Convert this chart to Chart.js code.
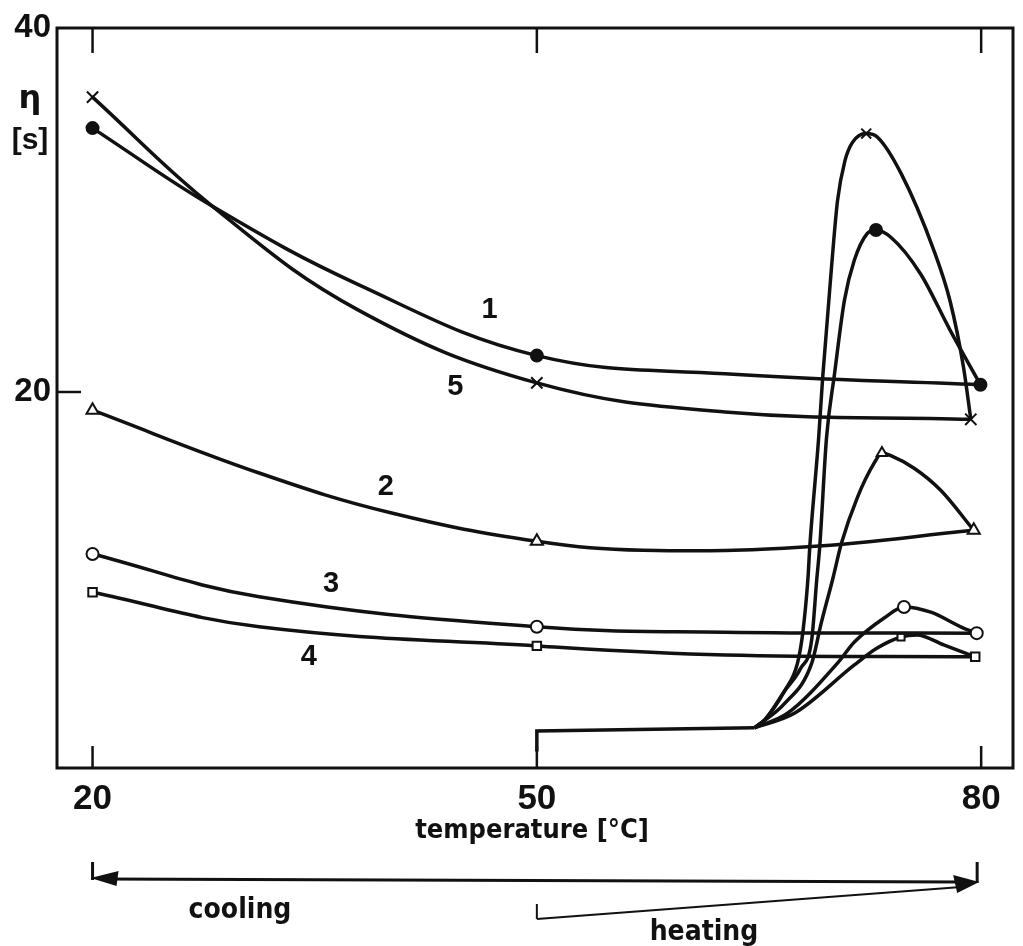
<!DOCTYPE html>
<html>
<head>
<meta charset="utf-8">
<title>eta vs temperature</title>
<script src="https://cdn.jsdelivr.net/npm/chart.js@4.4.1/dist/chart.umd.min.js"></script>
<style>
  html,body{margin:0;padding:0;background:#fff;}
  #wrap{width:1023px;height:946px;}
</style>
</head>
<body>
<div id="wrap"><canvas id="c" width="1023" height="946"></canvas></div>
<script>
// axis ticks
const xTicks = [20, 50, 80];
const yTicks = [20, 40];

// cooling branches (80 -> 20 °C)
const c1CoolT   = [20, 28.1, 37.95, 50, 62.7, 79.95];
const c1CoolEta = [34.5, 30.2, 25.9, 22.0, 21.0, 20.4];
const c5CoolT   = [20, 28.1, 37.95, 50, 62.7, 79.3];
const c5CoolEta = [36.2, 30.2, 24.5, 20.5, 18.9, 18.5];
const c2CoolT   = [20, 31.25, 40.2, 50, 57.2, 68.3, 79.5];
const c2CoolEta = [19.0, 15.55, 13.35, 11.8, 11.3, 11.5, 12.4];
const c3CoolT   = [20, 31.25, 50, 62.7, 79.7];
const c3CoolEta = [11.1, 8.75, 7.1, 6.8, 6.75];
const c4CoolT   = [20, 31.25, 50, 62.7, 79.6];
const c4CoolEta = [9.0, 7.1, 6.05, 5.55, 5.45];

// heating: common flat start
const baseT   = [50, 50, 64.7];
const baseEta = [0.25, 1.37, 1.55];

// heating branches
const c5HeatT   = [64.7, 65.4, 66.75, 67.6, 67.96, 68.3, 68.43, 69.03, 69.3, 69.9, 70.3, 70.8, 71.3, 72.24, 73.0, 74.6, 76.8, 77.9, 78.8, 79.3];
const c5HeatEta = [1.55, 2.0, 3.6, 5.1, 6.8, 9.7, 11.5, 17.5, 20.8, 26.9, 30.5, 32.7, 33.7, 34.2, 34.0, 32.0, 27.8, 25.0, 21.4, 18.5];
const c1HeatT   = [64.7, 65.4, 66.75, 67.8, 68.56, 68.9, 69.1, 69.56, 70.1, 70.77, 71.44, 72.3, 72.9, 73.9, 75.9, 77.9, 79.95];
const c1HeatEta = [1.55, 2.0, 3.6, 4.8, 6.4, 9.7, 11.5, 17.5, 21.0, 25.05, 27.25, 28.7, 28.9, 28.5, 26.5, 23.4, 20.4];
const c2HeatT   = [64.7, 66.75, 68.56, 69.2, 69.97, 70.57, 71.64, 72.78, 73.3, 73.9, 75.5, 77.27, 79.5];
const c2HeatEta = [1.55, 2.9, 5.1, 7.3, 9.7, 11.7, 14.2, 16.1, 16.65, 16.5, 15.8, 14.6, 12.4];
const c3HeatT   = [64.7, 66.95, 70.3, 71.44, 73.45, 74.79, 76.6, 78.8, 79.7];
const c3HeatEta = [1.55, 2.36, 5.1, 6.26, 7.58, 8.19, 7.9, 7.03, 6.76];
const c4HeatT   = [64.7, 67.42, 71.44, 72.98, 74.59, 75.66, 77.47, 79.6];
const c4HeatEta = [1.55, 2.36, 5.0, 5.93, 6.54, 6.65, 6.1, 5.44];

// curve numbers written on the plot
const curveNames = ['1', '5', '2', '3', '4'];
const nameT   = [46.8, 44.5, 39.8, 36.1, 34.6];
const nameEta = [24.5, 20.3, 14.8, 9.45, 5.45];

const INK = '#111';
const SANS = "'Liberation Sans',Arial,sans-serif";
const NARROW = "'Liberation Sans Narrow','DejaVu Sans Condensed','Liberation Sans',Arial,sans-serif";

function pts(T, E){ return T.map((t,i)=>({x:t, y:E[i]})); }

// one curve; markers only on the listed indices
function curve(T, E, marks, style, r, fill){
  return {
    data: pts(T, E),
    borderColor: INK,
    borderWidth: 3.5,
    cubicInterpolationMode: 'monotone',
    pointStyle: style,
    pointRadius: c => marks.includes(c.dataIndex) ? r : 0,
    pointHoverRadius: 0,
    pointBackgroundColor: fill,
    pointBorderColor: INK,
    pointBorderWidth: 2
  };
}
// smooth cooling curve (plain bezier instead of monotone)
function cool(T, E, marks, style, r, fill){
  return Object.assign(curve(T, E, marks, style, r, fill), {cubicInterpolationMode: 'default', tension: 0.4});
}

const datasets = [
  cool(c1CoolT, c1CoolEta, [0, 3, 5], 'circle', 6, INK),
  cool(c5CoolT, c5CoolEta, [0, 3, 5], 'crossRot', 8, INK),
  cool(c2CoolT, c2CoolEta, [0, 3, 6], 'triangle', 7, '#fff'),
  cool(c3CoolT, c3CoolEta, [0, 2, 4], 'circle', 6, '#fff'),
  cool(c4CoolT, c4CoolEta, [0, 2, 4], 'rect', 6, '#fff'),
  Object.assign(curve(baseT, baseEta, [], 'circle', 0, INK), {cubicInterpolationMode: 'default', tension: 0}),
  curve(c5HeatT, c5HeatEta, [13], 'crossRot', 7, INK),
  curve(c1HeatT, c1HeatEta, [12], 'circle', 6, INK),
  curve(c2HeatT, c2HeatEta, [8], 'triangle', 6, '#fff'),
  curve(c3HeatT, c3HeatEta, [5], 'circle', 6, '#fff'),
  curve(c4HeatT, c4HeatEta, [4], 'rect', 5, '#fff')
];

// box, inward ticks, labels and the cooling / heating arrows
const decor = {
  id: 'decor',
  afterDraw(chart){
    const {ctx, chartArea: a, scales: {x, y}} = chart;
    const seg = (x1,y1,x2,y2)=>{ ctx.beginPath(); ctx.moveTo(x1,y1); ctx.lineTo(x2,y2); ctx.stroke(); };
    ctx.save();
    ctx.strokeStyle = INK; ctx.fillStyle = INK;
    ctx.lineWidth = 3;
    ctx.strokeRect(a.left, a.top, a.right - a.left, a.bottom - a.top);
    ctx.lineWidth = 2.5;
    xTicks.forEach(v=>{
      const px = x.getPixelForValue(v);
      seg(px, a.top, px, a.top + 25);
      seg(px, a.bottom, px, a.bottom - 22);
    });
    const p20 = y.getPixelForValue(20);
    seg(a.left, p20, a.left + 24, p20);

    // y axis name
    ctx.textAlign = 'center'; ctx.textBaseline = 'middle';
    ctx.font = "bold 32px 'DejaVu Sans',sans-serif";
    ctx.fillText('η', 30, 100);
    ctx.font = "bold 30px " + SANS;
    ctx.fillText('[s]', 30, 141);

    // curve numbers
    ctx.font = "bold 29px " + SANS;
    curveNames.forEach((n,i)=>{
      ctx.fillText(n, x.getPixelForValue(nameT[i]), y.getPixelForValue(nameEta[i]));
    });

    // x axis name
    ctx.font = "bold 27px " + NARROW;
    ctx.fillText('temperature [°C]', 532, 831);

    // cooling arrow 80 -> 20
    const x20 = x.getPixelForValue(20), x50 = x.getPixelForValue(50), x80 = x.getPixelForValue(80);
    ctx.lineWidth = 3;
    seg(x20, 862, x20, 880);
    seg(x80 - 4, 862, x80 - 4, 883);
    seg(x20 + 10, 879, x80 - 20, 882);
    ctx.beginPath(); ctx.moveTo(x20 - 2, 878); ctx.lineTo(x20 + 26, 871); ctx.lineTo(x20 + 24, 886); ctx.closePath(); ctx.fill();
    // heating arrow 50 -> 80
    ctx.lineWidth = 2;
    seg(x50, 904, x50, 919);
    seg(x50, 919, x80 - 20, 887);
    ctx.beginPath(); ctx.moveTo(x80 - 2, 882); ctx.lineTo(x80 - 28, 875); ctx.lineTo(x80 - 24, 893); ctx.closePath(); ctx.fill();

    ctx.font = "bold 28px " + NARROW;
    ctx.fillText('cooling', 240, 911);
    ctx.fillText('heating', 704, 933);
    ctx.restore();
  }
};

new Chart(document.getElementById('c'), {
  type: 'line',
  data: { datasets },
  options: {
    responsive: false,
    animation: false,
    layout: { padding: { top: 28, right: 5, left: 0, bottom: 0 } },
    plugins: { legend: { display: false }, tooltip: { enabled: false } },
    scales: {
      x: {
        type: 'linear', min: 17.6, max: 82.15,
        afterBuildTicks: s => { s.ticks = xTicks.map(v=>({value: v})); },
        afterFit: s => { s.height = 178; },
        grid: { display: false, drawTicks: false },
        border: { display: false },
        ticks: { color: INK, padding: 10, maxRotation: 0, font: { family: SANS, size: 35, weight: 'bold' } }
      },
      y: {
        min: -0.66, max: 40,
        afterBuildTicks: s => { s.ticks = yTicks.map(v=>({value: v})); },
        afterFit: s => { s.width = 57; },
        grid: { display: false, drawTicks: false },
        border: { display: false },
        ticks: { color: INK, padding: 6, font: { family: SANS, size: 33, weight: 'bold' } }
      }
    }
  },
  plugins: [decor]
});
</script>
</body>
</html>
